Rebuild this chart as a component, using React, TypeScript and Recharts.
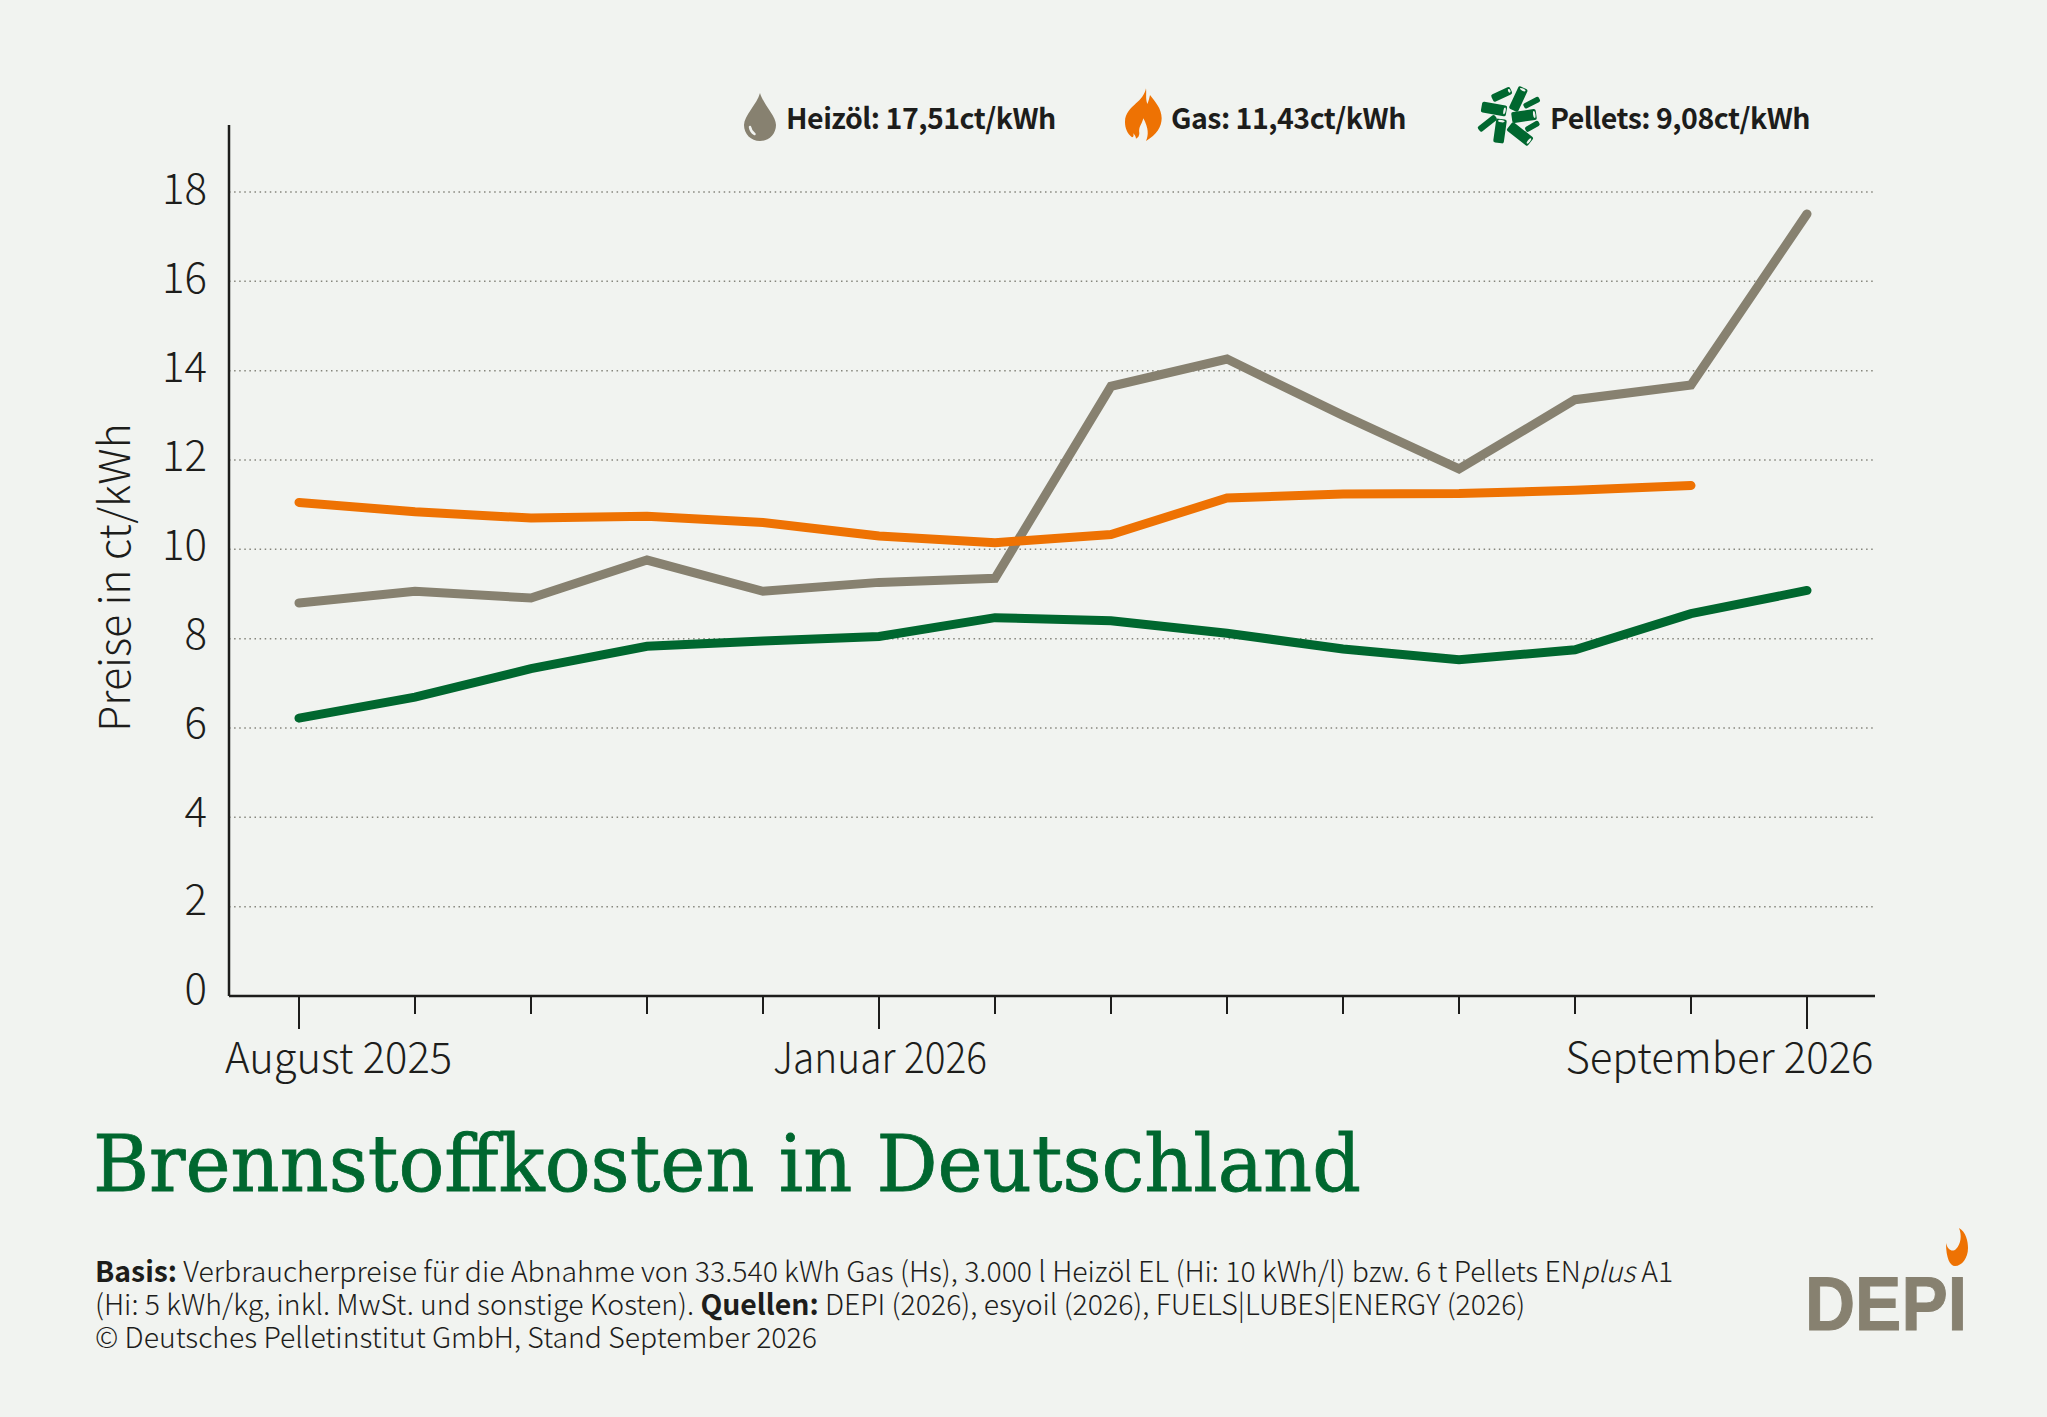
import React from "react";
import {
  LineChart,
  Line,
  XAxis,
  YAxis,
  CartesianGrid,
  Legend,
} from "recharts";

const months = [
  "August 2025",
  "September 2025",
  "Oktober 2025",
  "November 2025",
  "Dezember 2025",
  "Januar 2026",
  "Februar 2026",
  "März 2026",
  "April 2026",
  "Mai 2026",
  "Juni 2026",
  "Juli 2026",
  "August 2026",
  "September 2026",
];
const heizoel = [8.8, 9.06, 8.91, 9.76, 9.06, 9.26, 9.35, 13.65, 14.26, 13.0, 11.8, 13.35, 13.68, 17.51];
const gas = [11.05, 10.84, 10.7, 10.74, 10.6, 10.3, 10.15, 10.33, 11.15, 11.24, 11.25, 11.32, 11.43, null];
const pellets = [6.22, 6.69, 7.33, 7.83, 7.95, 8.05, 8.47, 8.4, 8.12, 7.77, 7.53, 7.75, 8.56, 9.08];
const yTicks = [0, 2, 4, 6, 8, 10, 12, 14, 16, 18];
const legendLabels = ["Heizöl: 17,51ct/kWh", "Gas: 11,43ct/kWh", "Pellets: 9,08ct/kWh"];

// labelled months: offset of the text from its tick, and the text width
const labelFit: Record<string, [number, number]> = {
  "August 2025": [-74, 227],
  "Januar 2026": [-106, 214],
  "September 2026": [-241.5, 308],
};

const GREY = "#878170";
const ORANGE = "#ee7203";
const GREEN = "#00672f";
const INK = "#1d1d1b";
const BG = "#f1f3f0";
const SANS = "'Noto Sans CJK SC', 'Noto Sans', sans-serif";

const chartData = months.map((month, i) => ({
  month,
  heizoel: heizoel[i],
  gas: gas[i],
  pellets: pellets[i],
}));

const MonthTick = ({ x, y, payload }: any) => {
  const fit = labelFit[payload.value];
  return (
    <g>
      <line x1={x} x2={x} y1={y} y2={y + (fit ? 33 : 18)} stroke={INK} strokeWidth={2} />
      {fit && (
        <text
          x={x + fit[0]}
          y={y + 77}
          textLength={fit[1]}
          lengthAdjust="spacingAndGlyphs"
          fontFamily={SANS}
          fontSize={42}
          fontWeight={300}
          fill={INK}
        >
          {payload.value}
        </text>
      )}
    </g>
  );
};

const PriceTick = ({ x, y, payload }: any) => (
  <text
    x={x}
    y={y}
    dy={12 - (18 - payload.value) * 0.2}
    textAnchor="end"
    fontFamily={SANS}
    fontSize={42}
    fontWeight={300}
    fill={INK}
  >
    {payload.value}
  </text>
);

const DropIcon = () => (
  <svg width={36} height={50} viewBox="0 0 36 50" style={{ position: "absolute", left: 742, top: 92 }}>
    <path d="M18 1 C21 12 34 24 34 33 C34 42 27 49 18 49 C9 49 2 42 2 33 C2 24 15 12 18 1 Z" fill={GREY} />
    <path d="M8 35 C8.5 38 10 40.5 12.5 42" fill="none" stroke={BG} strokeWidth={2.5} strokeLinecap="round" />
  </svg>
);

const FlameIcon = () => (
  <svg width={70} height={70} viewBox="0 0 210 210" style={{ position: "absolute", left: 1110, top: 80 }}>
    <path
      d="M108 25 C110 40 106 55 112 72 C116 62 118 55 120 45 C135 65 155 85 155 115 C155 140 140 165 108 183 C116 165 116 145 100 115 C95 135 85 140 88 160 C88 168 84 174 78 176 C78 170 74 165 70 160 C72 168 70 172 66 172 C52 160 45 145 45 125 C45 100 62 85 78 70 C92 58 104 45 108 25 Z"
      fill={ORANGE}
    />
  </svg>
);

// centre x, centre y, length, width, angle (in the 90x70 crop, times 3)
const pelletShapes = [
  [95, 43, 62, 24, -25],
  [145, 57, 74, 30, -65],
  [185, 68, 52, 17, -27],
  [72, 87, 76, 33, 10],
  [162, 108, 74, 33, -8],
  [52, 130, 64, 19, -38],
  [90, 153, 72, 32, -82],
  [150, 162, 80, 32, 38],
  [187, 139, 46, 17, -30],
];

const PelletIcon = () => (
  <svg width={90} height={70} viewBox="0 0 270 210" style={{ position: "absolute", left: 1470, top: 80 }}>
    {pelletShapes.map(([cx, cy, l, w, a], i) => (
      <g key={i} transform={`rotate(${a} ${cx} ${cy})`}>
        <rect x={cx - l / 2} y={cy - w / 2} width={l} height={w} rx={6} fill={GREEN} />
        {w > 22 && <ellipse cx={cx + l / 2 - 6} cy={cy} rx={3.5} ry={w / 2 - 6} fill={BG} />}
      </g>
    ))}
  </svg>
);

const legendLefts = [786, 1171, 1550];

const LegendContent = () => (
  <div style={{ position: "relative", width: 2047, height: 160 }}>
    <DropIcon />
    <FlameIcon />
    <PelletIcon />
    {legendLabels.map((label, i) => (
      <span
        key={label}
        style={{
          position: "absolute",
          left: legendLefts[i],
          top: 96,
          fontFamily: SANS,
          fontWeight: 700,
          fontSize: 28.5,
          letterSpacing: -0.5,
          lineHeight: "42px",
          color: INK,
          whiteSpace: "nowrap",
        }}
      >
        {label}
      </span>
    ))}
  </div>
);

const noteStyle: React.CSSProperties = {
  position: "absolute",
  left: 95,
  fontFamily: SANS,
  fontSize: 28.4,
  fontWeight: 300,
  lineHeight: "32px",
  color: INK,
  whiteSpace: "nowrap",
};
const boldStyle: React.CSSProperties = { fontWeight: 700 };

const App = () => {
  return (
    <div style={{ position: "absolute", left: 0, top: 0, width: 2047, height: 1417, background: BG, overflow: "hidden" }}>
      <LineChart
        width={2047}
        height={1417}
        data={chartData}
        margin={{ top: 125, right: 172, bottom: 0, left: 0 }}
      >
        <CartesianGrid
          vertical={false}
          horizontalValues={yTicks}
          syncWithTicks
          stroke="#85857c"
          strokeWidth={1.5}
          strokeDasharray="1.5 3.6"
        />
        <XAxis
          dataKey="month"
          interval={0}
          height={421}
          padding={{ left: 70, right: 68 }}
          axisLine={{ stroke: INK, strokeWidth: 2.5 }}
          tickLine={false}
          tickSize={0}
          tickMargin={0}
          tick={<MonthTick />}
        />
        <YAxis
          width={229}
          domain={[0, 19.5]}
          ticks={yTicks}
          interval={0}
          axisLine={{ stroke: INK, strokeWidth: 2.5 }}
          tickLine={false}
          tickSize={0}
          tickMargin={22}
          tick={<PriceTick />}
          label={{
            value: "Preise in ct/kWh",
            angle: -90,
            position: "insideLeft",
            offset: 115,
            dy: 17,
            style: { fontFamily: SANS, fontSize: 42.5, fontWeight: 300, fill: INK, textAnchor: "middle" },
          }}
        />
        <Legend
          layout="horizontal"
          verticalAlign="middle"
          align="center"
          wrapperStyle={{ left: 0, top: 0, width: 2047, height: 160 }}
          content={<LegendContent />}
        />
        <Line dataKey="heizoel" stroke={GREY} strokeWidth={9} strokeLinecap="round" dot={false} isAnimationActive={false} />
        <Line dataKey="gas" stroke={ORANGE} strokeWidth={9} strokeLinecap="round" dot={false} isAnimationActive={false} />
        <Line dataKey="pellets" stroke={GREEN} strokeWidth={9} strokeLinecap="round" dot={false} isAnimationActive={false} />
      </LineChart>

      <svg width={2047} height={1417} style={{ position: "absolute", left: 0, top: 0, pointerEvents: "none" }}>
        <text
          x={93}
          y={1191}
          fontFamily="'DejaVu Serif', serif"
          fontSize={78}
          fill={GREEN}
          stroke={GREEN}
          strokeWidth={0.8}
          textLength={1268}
          lengthAdjust="spacingAndGlyphs"
        >
          Brennstoffkosten in Deutschland
        </text>
        <text
          x={1805}
          y={1330}
          fontFamily="'Liberation Sans', sans-serif"
          fontWeight={700}
          fontSize={76}
          fill={GREY}
          stroke={GREY}
          strokeWidth={1}
          textLength={162}
          lengthAdjust="spacingAndGlyphs"
        >
          DEPI
        </text>
        <path
          d="M1959 1228 C1966 1232 1968 1241 1968 1248 C1968 1258 1962 1266 1955 1266 C1950 1266 1946 1258 1946 1243 C1948 1251 1953 1252 1956 1249 C1961 1244 1962 1235 1959 1228 Z"
          fill={ORANGE}
        />
      </svg>

      <div style={{ ...noteStyle, top: 1254 }}>
        <span style={boldStyle}>Basis:</span> Verbraucherpreise für die Abnahme von 33.540 kWh Gas (Hs), 3.000 l Heizöl EL (Hi: 10 kWh/l) bzw. 6 t Pellets EN<i>plus</i> A1
      </div>
      <div style={{ ...noteStyle, top: 1287 }}>
        (Hi: 5 kWh/kg, inkl. MwSt. und sonstige Kosten). <span style={boldStyle}>Quellen:</span> DEPI (2026), esyoil (2026), FUELS|LUBES|ENERGY (2026)
      </div>
      <div style={{ ...noteStyle, top: 1320 }}>© Deutsches Pelletinstitut GmbH, Stand September 2026</div>
    </div>
  );
};

export default App;
